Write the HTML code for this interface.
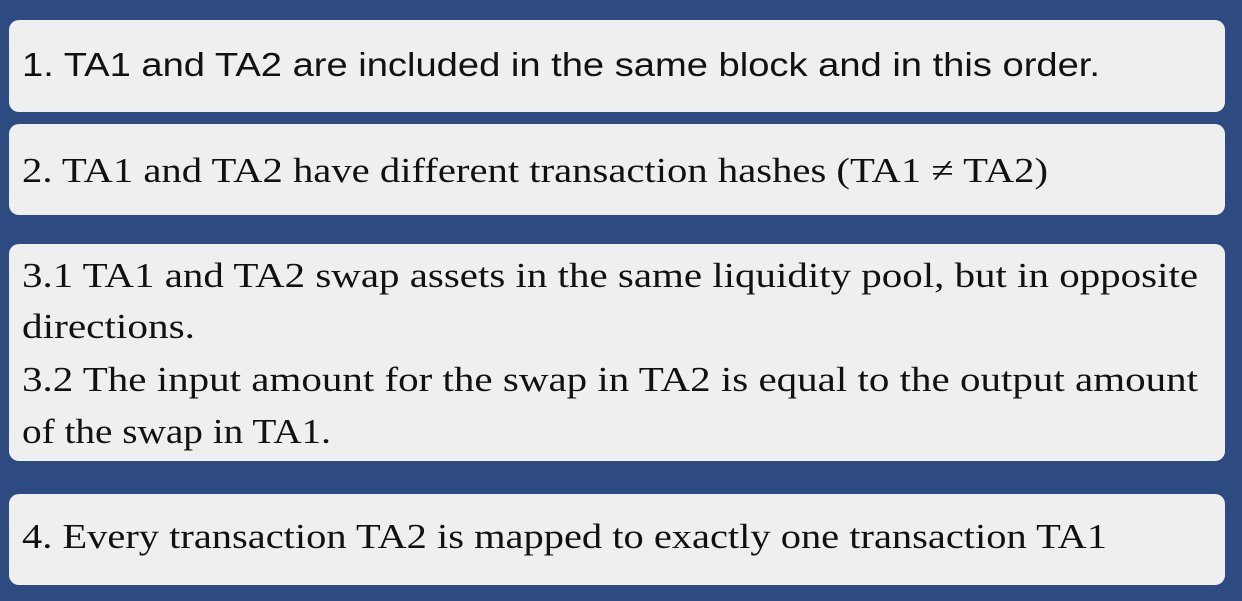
<!DOCTYPE html>
<html><head><meta charset="utf-8"><style>
html,body{margin:0;padding:0;width:1242px;height:601px;overflow:hidden;background:#2d4b80}
</style></head><body>
<svg width="1242" height="601" xmlns="http://www.w3.org/2000/svg">
<rect width="1242" height="601" fill="#2d4b80"/>
<g fill="#efefef">
<rect x="9" y="20" width="1216" height="92" rx="10"/>
<rect x="9" y="124" width="1216" height="91" rx="10"/>
<rect x="9" y="244" width="1216" height="217" rx="10"/>
<rect x="9" y="494" width="1216" height="91" rx="10"/>
</g>
<g fill="#111" font-family="Liberation Serif, serif" font-size="35">
<text x="22" y="76" font-family="Liberation Sans, sans-serif" font-size="33" textLength="1078" lengthAdjust="spacingAndGlyphs">1. TA1 and TA2 are included in the same block and in this order.</text>
<text x="22" y="182" textLength="1026" lengthAdjust="spacingAndGlyphs">2. TA1 and TA2 have different transaction hashes (TA1 ≠ TA2)</text>
<text x="22" y="287" textLength="1176" lengthAdjust="spacingAndGlyphs">3.1 TA1 and TA2 swap assets in the same liquidity pool, but in opposite</text>
<text x="22" y="338" textLength="173" lengthAdjust="spacingAndGlyphs">directions.</text>
<text x="22" y="391" textLength="1176" lengthAdjust="spacingAndGlyphs">3.2 The input amount for the swap in TA2 is equal to the output amount</text>
<text x="22" y="443" textLength="309" lengthAdjust="spacingAndGlyphs">of the swap in TA1.</text>
<text x="22" y="548" textLength="1085" lengthAdjust="spacingAndGlyphs">4. Every transaction TA2 is mapped to exactly one transaction TA1</text>
</g>
</svg>
</body></html>
